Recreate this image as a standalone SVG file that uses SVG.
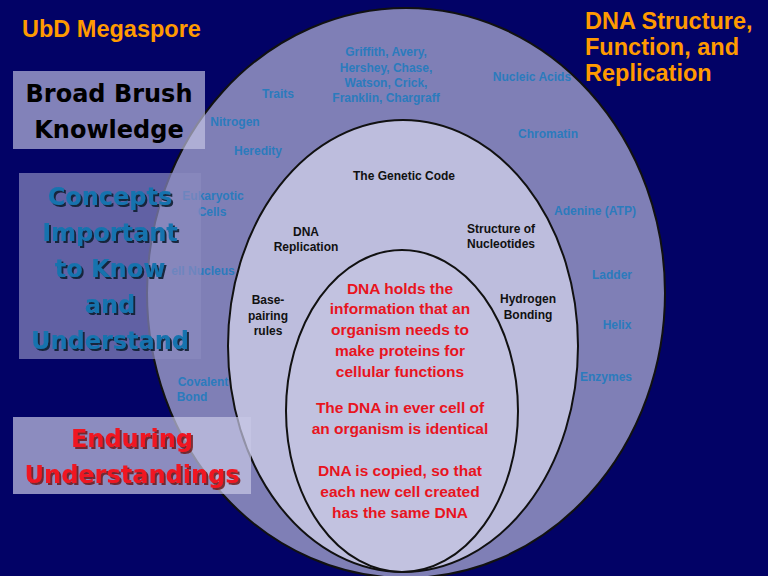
<svg xmlns="http://www.w3.org/2000/svg" width="768" height="576" viewBox="0 0 768 576">
<defs>
<filter id="sh" x="-10%" y="-10%" width="130%" height="130%"><feDropShadow dx="2" dy="2" stdDeviation="0.6" flood-color="#0a1a30" flood-opacity="0.9"/></filter>
<filter id="shr" x="-10%" y="-10%" width="130%" height="130%"><feDropShadow dx="2" dy="2" stdDeviation="0.6" flood-color="#6a1010" flood-opacity="0.8"/></filter>
</defs>
<style>
.o{font-family:"Liberation Sans",Arial,sans-serif;font-weight:bold;font-size:12px;fill:#2b7bbd;text-anchor:middle}
.m{font-family:"Liberation Sans",Arial,sans-serif;font-weight:bold;font-size:12px;fill:#111;text-anchor:middle}
.r{font-family:"Liberation Sans",Arial,sans-serif;font-weight:bold;font-size:15.5px;fill:#e8141e;text-anchor:middle}
.t{font-family:"Liberation Sans",Arial,sans-serif;font-weight:bold;font-size:23.5px;fill:#ff9a00}
.b{font-family:"DejaVu Sans",sans-serif;font-weight:bold;text-anchor:middle;font-size:24px}
</style>
<rect width="768" height="576" fill="#020266"/>
<g id="outer"><ellipse cx="406" cy="293" rx="259" ry="285" fill="#7f7fb6" stroke="#111" stroke-width="2"/></g>
<g id="middle"><ellipse cx="403" cy="346" rx="175" ry="226" fill="#bdbddd" stroke="#111" stroke-width="2"/></g>
<g id="inner"><ellipse cx="402" cy="411" rx="116" ry="161" fill="#c2c2e0" stroke="#111" stroke-width="2"/></g>
<g id="outer-labels">
<text class="o" x="386" y="56">Griffith, Avery,</text>
<text class="o" x="386" y="72">Hershey, Chase,</text>
<text class="o" x="386" y="87">Watson, Crick,</text>
<text class="o" x="386" y="102">Franklin, Chargraff</text>
<text class="o" x="278" y="98">Traits</text>
<text class="o" x="532" y="81">Nucleic Acids</text>
<text class="o" x="235" y="126">Nitrogen</text>
<text class="o" x="258" y="155">Heredity</text>
<text class="o" x="548" y="138">Chromatin</text>
<text class="o" x="213" y="200">Eukaryotic</text>
<text class="o" x="212" y="216">Cells</text>
<text class="o" x="595" y="215">Adenine (ATP)</text>
<text class="o" x="203" y="275">ell Nucleus</text>
<text class="o" x="612" y="279">Ladder</text>
<text class="o" x="617" y="329">Helix</text>
<text class="o" x="606" y="381">Enzymes</text>
<text class="o" x="203" y="386">Covalent</text>
<text class="o" x="192" y="401">Bond</text>
</g>
<g id="middle-labels">
<text class="m" x="404" y="180">The Genetic Code</text>
<text class="m" x="306" y="236">DNA</text>
<text class="m" x="306" y="251">Replication</text>
<text class="m" x="501" y="233">Structure of</text>
<text class="m" x="501" y="248">Nucleotides</text>
<text class="m" x="268" y="304">Base-</text>
<text class="m" x="268" y="320">pairing</text>
<text class="m" x="268" y="335">rules</text>
<text class="m" x="528" y="303">Hydrogen</text>
<text class="m" x="528" y="319">Bonding</text>
</g>
<g id="inner-labels">
<text class="r" x="400" y="294">DNA holds the</text>
<text class="r" x="400" y="314">information that an</text>
<text class="r" x="400" y="335">organism needs to</text>
<text class="r" x="400" y="356">make proteins for</text>
<text class="r" x="400" y="377">cellular functions</text>
<text class="r" x="400" y="413">The DNA in ever cell of</text>
<text class="r" x="400" y="434">an organism is identical</text>
<text class="r" x="400" y="476">DNA is copied, so that</text>
<text class="r" x="400" y="497">each new cell created</text>
<text class="r" x="400" y="518">has the same DNA</text>
</g>
<g id="titles">
<text class="t" x="22" y="37">UbD Megaspore</text>
<text class="t" x="585" y="29">DNA Structure,</text>
<text class="t" x="585" y="55">Function, and</text>
<text class="t" x="585" y="81">Replication</text>
</g>
<g id="box-broad">
<rect x="13" y="71" width="192" height="78" fill="#c8c8e6" fill-opacity="0.65"/>
<text class="b" x="109" y="102" fill="#000">Broad Brush</text>
<text class="b" x="109" y="138" fill="#000">Knowledge</text>
</g>
<g id="box-concepts">
<rect x="19" y="173" width="182" height="186" fill="#8a8abf" fill-opacity="0.7"/>
<g fill="#1673ae" filter="url(#sh)">
<text class="b" x="110" y="205">Concepts</text><text class="b" x="110" y="241">Important</text><text class="b" x="110" y="277">to Know</text><text class="b" x="110" y="313">and</text><text class="b" x="110" y="349">Understand</text>
</g>
</g>
<g id="box-enduring">
<rect x="13" y="417" width="238" height="77" fill="#c8c8e6" fill-opacity="0.7"/>
<g fill="#f01820" filter="url(#shr)"><text class="b" x="132" y="447">Enduring</text><text class="b" x="132" y="483">Understandings</text></g>
</g>
<g id="connectors"/>
</svg>
